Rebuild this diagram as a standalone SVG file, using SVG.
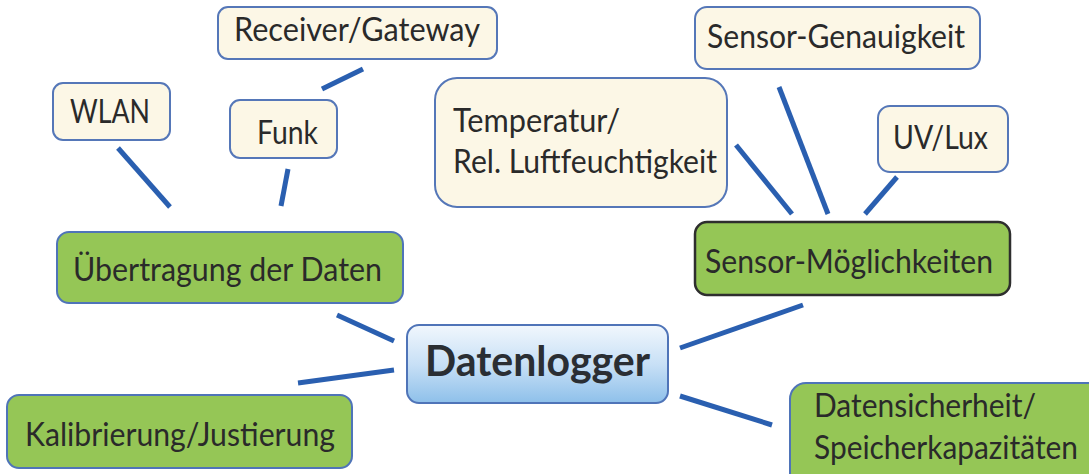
<svg xmlns="http://www.w3.org/2000/svg" width="1089" height="474" viewBox="0 0 1089 474">
  <defs>
    <linearGradient id="blueFill" x1="0" y1="0" x2="0" y2="1">
      <stop offset="0" stop-color="#f1f7fd"/>
      <stop offset="0.5" stop-color="#c8e0f6"/>
      <stop offset="1" stop-color="#8ec0ea"/>
    </linearGradient>
    <style>
      .leaf { fill: #fcf7e6; stroke: #5577b8; stroke-width: 2; }
      .branch { fill: #95c656; stroke: #4f74b8; stroke-width: 2; }
      .branch-dark { fill: #95c656; stroke: #2e2e2e; stroke-width: 2.5; }
      .root { fill: url(#blueFill); stroke: #4f74b8; stroke-width: 2; }
      .label { font-family: Lato, "Liberation Sans", sans-serif; font-size: 33px; fill: #2a2a2a; }
      .title { font-family: Lato, "Liberation Sans", sans-serif; font-size: 42px; font-weight: bold; fill: #2a2e33; }
      .link { stroke: #2a5fb0; stroke-width: 5; stroke-linecap: butt; fill: none; }
    </style>
  </defs>
  <rect width="1089" height="474" fill="#ffffff"/>

  <!-- connectors -->
  <g id="connectors">
    <line class="link" x1="322" y1="89" x2="363" y2="69"/>
    <line class="link" x1="118" y1="148" x2="170" y2="207"/>
    <line class="link" x1="288" y1="169" x2="281" y2="206"/>
    <line class="link" x1="337" y1="315" x2="394" y2="341"/>
    <line class="link" x1="298" y1="383" x2="394" y2="370"/>
    <line class="link" x1="680" y1="348" x2="803" y2="305"/>
    <line class="link" x1="680" y1="396" x2="772" y2="425"/>
    <line class="link" x1="736" y1="145" x2="792" y2="214"/>
    <line class="link" x1="779" y1="87" x2="828" y2="214"/>
    <line class="link" x1="897" y1="177" x2="865" y2="214"/>
  </g>

  <g id="receiver-gateway">
    <rect class="leaf" x="218" y="7" width="279" height="52" rx="10"/>
    <text class="label" x="234" y="41" textLength="246" lengthAdjust="spacingAndGlyphs">Receiver/Gateway</text>
  </g>
  <g id="wlan">
    <rect class="leaf" x="53" y="83" width="117" height="57" rx="10"/>
    <text class="label" x="70" y="123" textLength="80" lengthAdjust="spacingAndGlyphs">WLAN</text>
  </g>
  <g id="funk">
    <rect class="leaf" x="230" y="100" width="107" height="58" rx="10"/>
    <text class="label" x="257" y="144" textLength="61" lengthAdjust="spacingAndGlyphs">Funk</text>
  </g>
  <g id="uebertragung">
    <rect class="branch" x="57" y="232" width="346" height="71" rx="12"/>
    <text class="label" x="73" y="281" textLength="309" lengthAdjust="spacingAndGlyphs">Übertragung der Daten</text>
  </g>
  <g id="kalibrierung">
    <rect class="branch" x="7" y="395" width="345" height="73" rx="12"/>
    <text class="label" x="25" y="446" textLength="310" lengthAdjust="spacingAndGlyphs">Kalibrierung/Justierung</text>
  </g>
  <g id="datenlogger">
    <rect class="root" x="407" y="325" width="261" height="78" rx="12"/>
    <text class="title" x="425" y="376" textLength="225" lengthAdjust="spacingAndGlyphs">Datenlogger</text>
  </g>
  <g id="temperatur">
    <rect class="leaf" x="435" y="78" width="292" height="129" rx="22"/>
    <text class="label" x="453" y="132" textLength="167" lengthAdjust="spacingAndGlyphs">Temperatur/</text>
    <text class="label" x="453" y="173" textLength="264" lengthAdjust="spacingAndGlyphs">Rel. Luftfeuchtigkeit</text>
  </g>
  <g id="sensor-genauigkeit">
    <rect class="leaf" x="695" y="7" width="285" height="62" rx="12"/>
    <text class="label" x="707" y="48" textLength="258" lengthAdjust="spacingAndGlyphs">Sensor-Genauigkeit</text>
  </g>
  <g id="uv-lux">
    <rect class="leaf" x="878" y="106" width="130" height="66" rx="12"/>
    <text class="label" x="893" y="149" textLength="95" lengthAdjust="spacingAndGlyphs">UV/Lux</text>
  </g>
  <g id="sensor-moeglichkeiten">
    <rect class="branch-dark" x="695" y="222" width="315" height="73" rx="12"/>
    <text class="label" x="705" y="273" textLength="288" lengthAdjust="spacingAndGlyphs">Sensor-Möglichkeiten</text>
  </g>
  <g id="datensicherheit">
    <rect class="branch" x="790" y="383" width="320" height="110" rx="16"/>
    <text class="label" x="814" y="417" textLength="222" lengthAdjust="spacingAndGlyphs">Datensicherheit/</text>
    <text class="label" x="814" y="459" textLength="264" lengthAdjust="spacingAndGlyphs">Speicherkapazitäten</text>
  </g>
</svg>
